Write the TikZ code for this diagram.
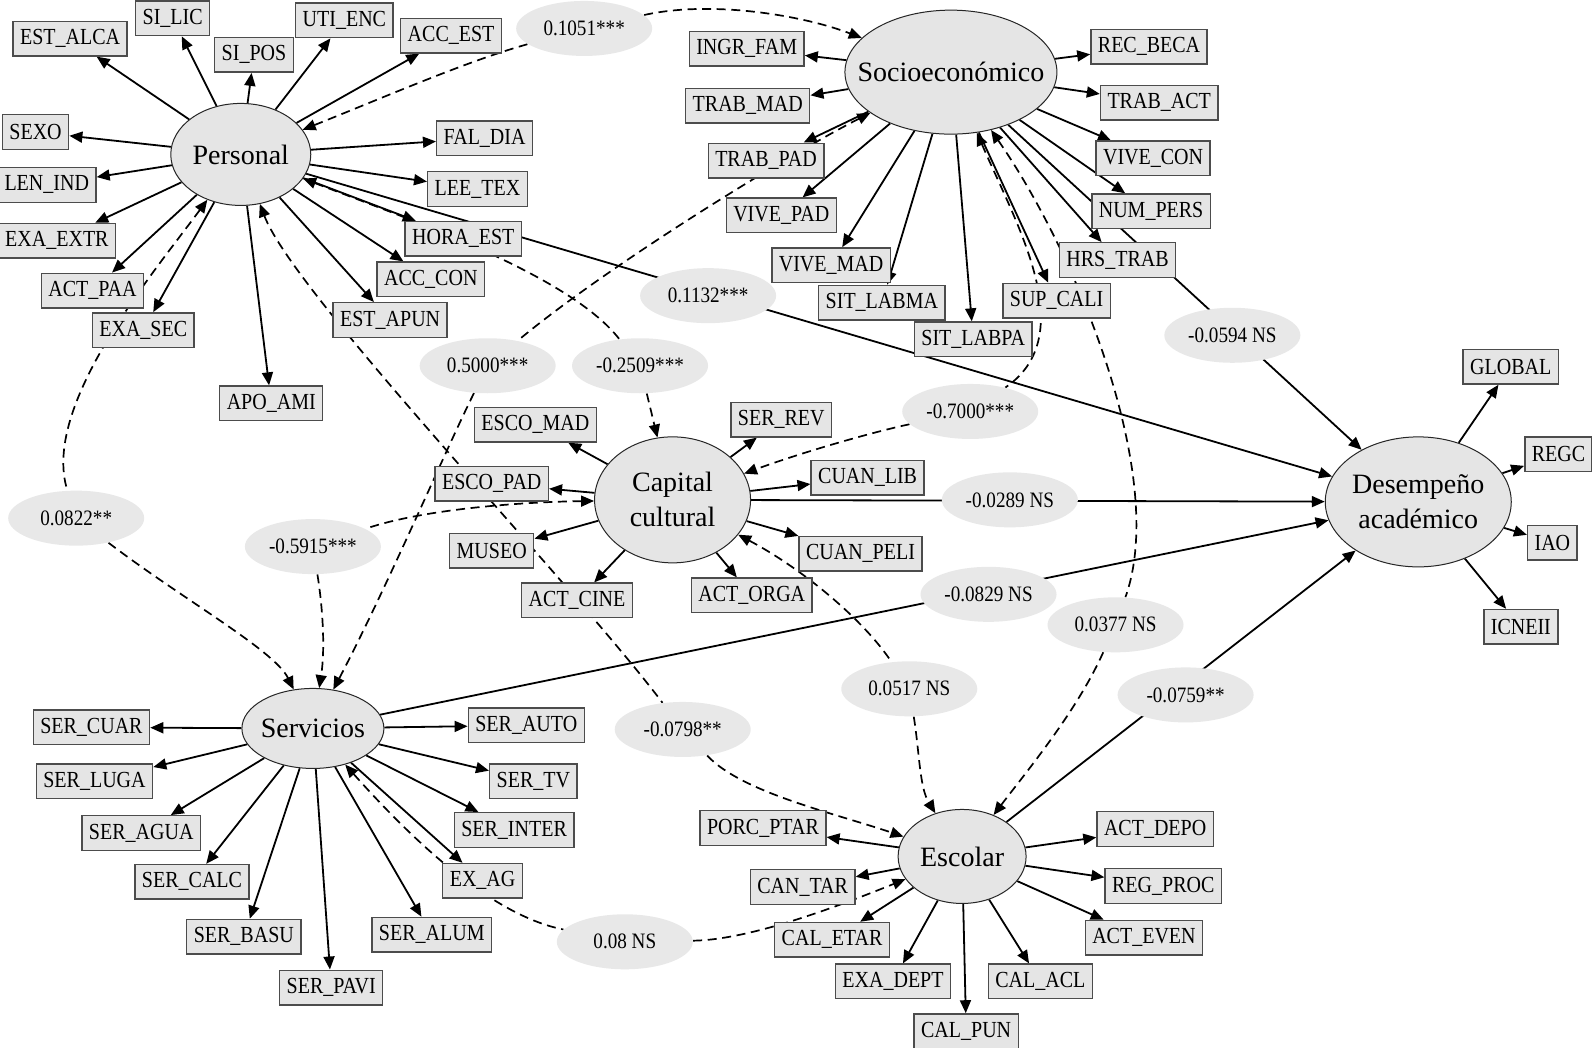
\documentclass[tikz,border=0pt]{standalone}
\usepackage{fontspec}
\setmainfont{Liberation Serif}
\newfontfamily\narrowserif[FakeStretch=0.87]{Liberation Serif}
\usetikzlibrary{shapes.geometric, arrows.meta, backgrounds}

\begin{document}
\begin{tikzpicture}[
        x=0.508pt, y=-0.508pt,
        >={Triangle[length=6.5pt, width=5.5pt]},
        factor/.style={ellipse, draw=black!85, fill=black!10, line width=0.5pt, inner sep=-15pt, align=center, font=\fontsize{14}{17.5}\selectfont},
        indicator/.style={rectangle, draw=black!70, fill=black!10, line width=0.7pt, inner xsep=3.5pt, inner ysep=0pt, minimum height=17.3pt, font=\narrowserif\fontsize{11.5}{13}\selectfont},
        coef/.style={ellipse, fill=black!9, inner sep=0pt, minimum width=68pt, minimum height=27.5pt, font=\narrowserif\fontsize{11}{13}\selectfont},
        load/.style={->, line width=0.9pt},
        corr/.style={line width=0.85pt, dash pattern=on 4.5pt off 2.8pt}
    ]

        % Size of the whole figure
        \useasboundingbox (0,0) rectangle (1567,1031);

        % Latent factors
        \node[factor, minimum width=70pt, minimum height=51pt] (Personal) at (237,152) {Personal};
        \node[factor, minimum width=106pt, minimum height=62pt] (Socio) at (936,71) {Socioeconómico};
        \node[factor, minimum width=78pt, minimum height=63pt] (Cap) at (662,492) {Capital\\cultural};
        \node[factor, minimum width=93pt, minimum height=65pt] (Des) at (1396,494) {Desempeño\\académico};
        \node[factor, minimum width=71pt, minimum height=40pt] (Serv) at (308,717) {Servicios};
        \node[factor, minimum width=64pt, minimum height=47pt] (Esc) at (947,843) {Escolar};

        % Indicators of Personal
        \node[indicator] (estalca) at (69,38) {EST\_ALCA};
        \node[indicator] (silic) at (170,18) {SI\_LIC};
        \node[indicator] (sipos) at (250,54) {SI\_POS};
        \node[indicator] (utienc) at (339,20) {UTI\_ENC};
        \node[indicator] (accest) at (444,35) {ACC\_EST};
        \node[indicator] (sexo) at (35,130) {SEXO};
        \node[indicator] (faldia) at (477,136) {FAL\_DIA};
        \node[indicator] (lenind) at (46,182) {LEN\_IND};
        \node[indicator] (leetex) at (470,186) {LEE\_TEX};
        \node[indicator] (exaextr) at (56,237) {EXA\_EXTR};
        \node[indicator] (horaest) at (456,235) {HORA\_EST};
        \node[indicator] (actpaa) at (91,286) {ACT\_PAA};
        \node[indicator] (acccon) at (424,275) {ACC\_CON};
        \node[indicator] (exasec) at (141,325) {EXA\_SEC};
        \node[indicator] (estapun) at (384,315) {EST\_APUN};
        \node[indicator] (apoami) at (267,397) {APO\_AMI};

        % Indicators of Socioeconomico
        \node[indicator] (ingrfam) at (735,48) {INGR\_FAM};
        \node[indicator] (trabmad) at (736,104) {TRAB\_MAD};
        \node[indicator] (trabpad) at (754,158) {TRAB\_PAD};
        \node[indicator] (vivepad) at (769,212) {VIVE\_PAD};
        \node[indicator] (vivemad) at (818,261) {VIVE\_MAD};
        \node[indicator] (sitlabma) at (868,298) {SIT\_LABMA};
        \node[indicator] (sitlabpa) at (958,334) {SIT\_LABPA};
        \node[indicator] (supcali) at (1040,296) {SUP\_CALI};
        \node[indicator] (hrstrab) at (1100,256) {HRS\_TRAB};
        \node[indicator] (numpers) at (1133,208) {NUM\_PERS};
        \node[indicator] (vivecon) at (1135,156) {VIVE\_CON};
        \node[indicator] (trabact) at (1141,101) {TRAB\_ACT};
        \node[indicator] (recbeca) at (1131,46) {REC\_BECA};

        % Indicators of Capital cultural
        \node[indicator] (escomad) at (527,418) {ESCO\_MAD};
        \node[indicator] (escopad) at (484,476) {ESCO\_PAD};
        \node[indicator] (museo) at (484,542) {MUSEO};
        \node[indicator] (actcine) at (568,591) {ACT\_CINE};
        \node[indicator] (actorga) at (740,586) {ACT\_ORGA};
        \node[indicator] (cuanpeli) at (847,545) {CUAN\_PELI};
        \node[indicator] (cuanlib) at (854,470) {CUAN\_LIB};
        \node[indicator] (serrev) at (769,413) {SER\_REV};

        % Indicators of Desempeno academico
        \node[indicator] (global) at (1487,361) {GLOBAL};
        \node[indicator] (regc) at (1534,447) {REGC};
        \node[indicator] (iao) at (1528,534) {IAO};
        \node[indicator] (icneii) at (1497,617) {ICNEII};

        % Indicators of Servicios
        \node[indicator] (sercuar) at (90,716) {SER\_CUAR};
        \node[indicator] (serluga) at (93,769) {SER\_LUGA};
        \node[indicator] (seragua) at (139,820) {SER\_AGUA};
        \node[indicator] (sercalc) at (189,868) {SER\_CALC};
        \node[indicator] (serbasu) at (240,922) {SER\_BASU};
        \node[indicator] (serpavi) at (326,972) {SER\_PAVI};
        \node[indicator] (seralum) at (425,920) {SER\_ALUM};
        \node[indicator] (exag) at (475,867) {EX\_AG};
        \node[indicator] (serinter) at (506,817) {SER\_INTER};
        \node[indicator] (sertv) at (525,769) {SER\_TV};
        \node[indicator] (serauto) at (518,714) {SER\_AUTO};

        % Indicators of Escolar
        \node[indicator] (porcptar) at (751,815) {PORC\_PTAR};
        \node[indicator] (cantar) at (790,873) {CAN\_TAR};
        \node[indicator] (caletar) at (819,925) {CAL\_ETAR};
        \node[indicator] (exadept) at (879,966) {EXA\_DEPT};
        \node[indicator] (calpun) at (951,1015) {CAL\_PUN};
        \node[indicator] (calacl) at (1024,966) {CAL\_ACL};
        \node[indicator] (acteven) at (1126,923) {ACT\_EVEN};
        \node[indicator] (regproc) at (1145,872) {REG\_PROC};
        \node[indicator] (actdepo) at (1137,816) {ACT\_DEPO};

        % Estimated coefficients
        \node[coef] (c1051) at (575,28) {0.1051***};
        \node[coef] (c1132) at (697,291) {0.1132***};
        \node[coef] (c5000) at (480,360) {0.5000***};
        \node[coef] (c2509) at (630,360) {-0.2509***};
        \node[coef] (c0594) at (1213,330) {-0.0594 NS};
        \node[coef] (c7000) at (955,405) {-0.7000***};
        \node[coef] (c0289) at (994,492) {-0.0289 NS};
        \node[coef] (c0822) at (75,510) {0.0822**};
        \node[coef] (c5915) at (308,538) {-0.5915***};
        \node[coef] (c0829) at (973,585) {-0.0829 NS};
        \node[coef] (c0377) at (1098,615) {0.0377 NS};
        \node[coef] (c0517) at (895,678) {0.0517 NS};
        \node[coef] (c0759) at (1167,684) {-0.0759**};
        \node[coef] (c0798) at (672,718) {-0.0798**};
        \node[coef] (c08) at (615,927) {0.08 NS};

        \begin{scope}[on background layer]
            \fill[white] (0,0) rectangle (1567,1031);

            % Loadings of Personal
            \draw[load] (Personal) -- (estalca);
            \draw[load] (Personal) -- (silic);
            \draw[load] (Personal) -- (sipos);
            \draw[load] (Personal) -- (utienc);
            \draw[load] (Personal) -- (accest);
            \draw[load] (Personal) -- (sexo);
            \draw[load] (Personal) -- (faldia);
            \draw[load] (Personal) -- (lenind);
            \draw[load] (Personal) -- (leetex);
            \draw[load] (Personal) -- (exaextr);
            \draw[load] (Personal) -- (horaest);
            \draw[load] (Personal) -- (actpaa);
            \draw[load] (Personal) -- (acccon);
            \draw[load] (Personal) -- (exasec);
            \draw[load] (Personal) -- (estapun);
            \draw[load] (Personal) -- (apoami);

            % Loadings of Socioeconomico
            \draw[load] (Socio) -- (ingrfam);
            \draw[load] (Socio) -- (trabmad);
            \draw[load] (Socio) -- (trabpad);
            \draw[load] (Socio) -- (vivepad);
            \draw[load] (Socio) -- (vivemad);
            \draw[load] (Socio) -- (sitlabma);
            \draw[load] (Socio) -- (sitlabpa);
            \draw[load] (Socio) -- (supcali);
            \draw[load] (Socio) -- (hrstrab);
            \draw[load] (Socio) -- (numpers);
            \draw[load] (Socio) -- (vivecon);
            \draw[load] (Socio) -- (trabact);
            \draw[load] (Socio) -- (recbeca);

            % Loadings of Capital cultural
            \draw[load] (Cap) -- (escomad);
            \draw[load] (Cap) -- (escopad);
            \draw[load] (Cap) -- (museo);
            \draw[load] (Cap) -- (actcine);
            \draw[load] (Cap) -- (actorga);
            \draw[load] (Cap) -- (cuanpeli);
            \draw[load] (Cap) -- (cuanlib);
            \draw[load] (Cap) -- (serrev);

            % Loadings of Desempeno academico
            \draw[load] (Des) -- (global);
            \draw[load] (Des) -- (regc);
            \draw[load] (Des) -- (iao);
            \draw[load] (Des) -- (icneii);

            % Loadings of Servicios
            \draw[load] (Serv) -- (sercuar);
            \draw[load] (Serv) -- (serluga);
            \draw[load] (Serv) -- (seragua);
            \draw[load] (Serv) -- (sercalc);
            \draw[load] (Serv) -- (serbasu);
            \draw[load] (Serv) -- (serpavi);
            \draw[load] (Serv) -- (seralum);
            \draw[load] (Serv) -- (exag);
            \draw[load] (Serv) -- (serinter);
            \draw[load] (Serv) -- (sertv);
            \draw[load] (Serv) -- (serauto);

            % Loadings of Escolar
            \draw[load] (Esc) -- (porcptar);
            \draw[load] (Esc) -- (cantar);
            \draw[load] (Esc) -- (caletar);
            \draw[load] (Esc) -- (exadept);
            \draw[load] (Esc) -- (calpun);
            \draw[load] (Esc) -- (calacl);
            \draw[load] (Esc) -- (acteven);
            \draw[load] (Esc) -- (regproc);
            \draw[load] (Esc) -- (actdepo);

            % Structural paths to Desempeno academico
            \draw[load] (Personal) -- (Des);
            \draw[load] (Socio) -- (Des);
            \draw[load] (Cap) -- (Des);
            \draw[load] (Serv) -- (Des);
            \draw[load] (Esc) -- (Des);

            % Correlations among the factors
            \draw[corr, <-] (Personal) .. controls (380,95) and (460,60) .. (c1051);
            \draw[corr, ->] (c1051) .. controls (700,0) and (790,15) .. (Socio);

            \draw[corr, <-] (Personal) .. controls (400,215) and (560,270) .. (c2509);
            \draw[corr, ->] (c2509) -- (Cap);

            \draw[corr, <-] (Personal) .. controls (290,290) and (560,570) .. (c0798);
            \draw[corr, ->] (c0798) .. controls (730,780) and (820,800) .. (Esc);

            \draw[corr, <-] (Personal) .. controls (150,270) and (40,400) .. (c0822);
            \draw[corr, ->] (c0822) .. controls (180,590) and (270,640) .. (Serv);

            \draw[corr, <-] (Socio) .. controls (780,150) and (600,260) .. (c5000);
            \draw[corr, ->] (c5000) .. controls (440,440) and (380,580) .. (Serv);

            \draw[corr, <-] (Socio) .. controls (1000,220) and (1065,330) .. (c7000);
            \draw[corr, ->] (c7000) .. controls (860,425) and (790,445) .. (Cap);

            \draw[corr, <-] (Socio) .. controls (1060,250) and (1150,470) .. (c0377);
            \draw[corr, ->] (c0377) .. controls (1060,700) and (1010,760) .. (Esc);

            \draw[corr, <-] (Cap) .. controls (520,494) and (420,500) .. (c5915);
            \draw[corr, ->] (c5915) .. controls (318,600) and (320,640) .. (Serv);

            \draw[corr, <-] (Cap) .. controls (790,560) and (850,610) .. (c0517);
            \draw[corr, ->] (c0517) .. controls (905,740) and (905,775) .. (Esc);

            \draw[corr, <-] (Serv) .. controls (400,820) and (480,900) .. (c08);
            \draw[corr, ->] (c08) .. controls (740,925) and (830,890) .. (Esc);
        \end{scope}

    \end{tikzpicture}
\end{document}
